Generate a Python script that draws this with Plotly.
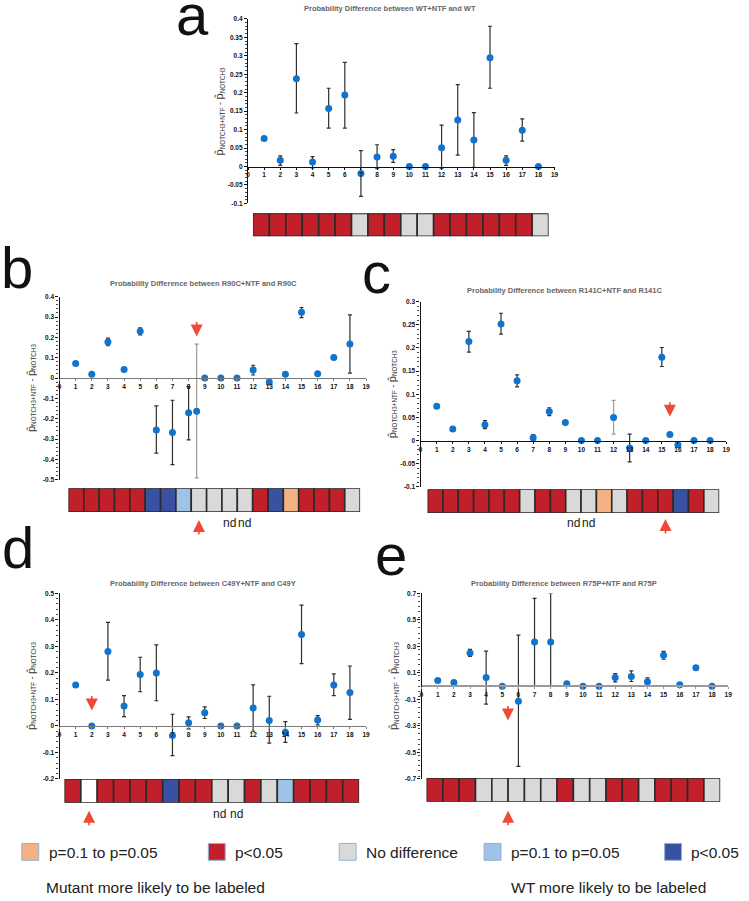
import plotly.graph_objects as go

W, H = 749, 901

# ======================= DATA =======================
x_ticklabels = [str(i) for i in range(20)]

a_title = "Probability Difference between WT+NTF and WT"
a_x = list(range(1, 19))
a_y = [0.076, 0.017, 0.238, 0.012, 0.157, 0.194, -0.019, 0.026, 0.028, 0.0, 0.0, 0.051, 0.126, 0.072, 0.295, 0.017, 0.098, 0.0]
a_hi = [0.076, 0.029, 0.333, 0.027, 0.212, 0.282, 0.043, 0.059, 0.046, 0.0, 0.0, 0.112, 0.222, 0.146, 0.380, 0.029, 0.129, 0.0]
a_lo = [0.076, 0.003, 0.145, -0.004, 0.104, 0.104, -0.081, -0.006, 0.011, 0.0, 0.0, -0.006, 0.031, -0.002, 0.212, 0.003, 0.069, 0.0]
a_tone = ["d"] * 18
a_strip = ["M", "M", "M", "M", "M", "M", "N", "M", "M", "N", "N", "M", "M", "M", "M", "M", "M", "N"]
a_yticks = [-0.1, -0.05, 0, 0.05, 0.1, 0.15, 0.2, 0.25, 0.3, 0.35, 0.4]
a_yticklabels = ["-0.1", "-0.05", "0", "0.05", "0.1", "0.15", "0.2", "0.25", "0.3", "0.35", "0.4"]
a_yrange = [-0.1, 0.4]
a_nd_cells = []
a_site_x = None
a_site_cell = None

b_title = "Probability Difference between R90C+NTF and R90C"
b_x = [1, 2, 3, 4, 5, 6, 7, 8, 8.5, 9, 10, 11, 12, 13, 14, 15, 16, 17, 18]
b_y = [0.072, 0.019, 0.177, 0.042, 0.230, -0.255, -0.268, -0.171, -0.163, 0.0, 0.0, 0.0, 0.040, -0.019, 0.019, 0.323, 0.021, 0.101, 0.167]
b_hi = [0.072, 0.019, 0.196, 0.042, 0.247, -0.137, -0.109, -0.042, 0.167, 0.0, 0.0, 0.0, 0.063, -0.019, 0.029, 0.347, 0.021, 0.101, 0.311]
b_lo = [0.072, 0.019, 0.159, 0.042, 0.212, -0.369, -0.426, -0.304, -0.491, 0.0, 0.0, 0.0, 0.015, -0.019, 0.010, 0.297, 0.021, 0.101, 0.024]
b_tone = ["d"] * 8 + ["l"] + ["d"] * 10
b_strip = ["M", "M", "M", "M", "M", "W", "W", "w", "N", "N", "N", "N", "M", "W", "m", "M", "M", "M", "N"]
b_yticks = [-0.5, -0.4, -0.3, -0.2, -0.1, 0, 0.1, 0.2, 0.3, 0.4]
b_yticklabels = ["-0.5", "-0.4", "-0.3", "-0.2", "-0.1", "0", "0.1", "0.2", "0.3", "0.4"]
b_yrange = [-0.5, 0.4]
b_nd_cells = [11, 12]
b_site_x = 8.5
b_site_cell = 9

c_title = "Probability Difference between R141C+NTF and R141C"
c_x = [1, 2, 3, 4, 5, 6, 7, 8, 9, 10, 11, 12, 13, 14, 15, 15.5, 16, 17, 18]
c_y = [0.074, 0.025, 0.214, 0.034, 0.252, 0.129, 0.006, 0.063, 0.039, 0.0, 0.0, 0.050, -0.016, 0.0, 0.180, 0.013, -0.009, 0.0, 0.0]
c_hi = [0.074, 0.025, 0.236, 0.043, 0.275, 0.142, 0.013, 0.071, 0.039, 0.0, 0.0, 0.087, 0.014, 0.0, 0.201, 0.013, -0.009, 0.0, 0.0]
c_lo = [0.074, 0.025, 0.191, 0.026, 0.230, 0.116, 0.0, 0.054, 0.039, 0.0, 0.0, 0.014, -0.046, 0.0, 0.160, 0.013, -0.009, 0.0, 0.0]
c_tone = ["d"] * 11 + ["l"] + ["d"] * 7
c_strip = ["M", "M", "M", "M", "M", "M", "N", "M", "M", "N", "N", "m", "N", "M", "M", "M", "W", "M", "N"]
c_yticks = [-0.1, -0.05, 0, 0.05, 0.1, 0.15, 0.2, 0.25, 0.3]
c_yticklabels = ["-0.1", "-0.05", "0", "0.05", "0.1", "0.15", "0.2", "0.25", "0.3"]
c_yrange = [-0.1, 0.3]
c_nd_cells = [10, 11]
c_site_x = 15.5
c_site_cell = 16

d_title = "Probability Difference between C49Y+NTF and C49Y"
d_x = list(range(1, 19))
d_y = [0.154, 0.0, 0.281, 0.075, 0.194, 0.200, -0.036, 0.012, 0.050, 0.0, 0.0, 0.068, 0.020, -0.024, 0.345, 0.022, 0.154, 0.126]
d_hi = [0.154, 0.0, 0.391, 0.114, 0.259, 0.306, 0.044, 0.034, 0.072, 0.0, 0.0, 0.155, 0.112, 0.016, 0.456, 0.039, 0.196, 0.226]
d_lo = [0.154, 0.0, 0.173, 0.035, 0.129, 0.095, -0.112, -0.011, 0.028, 0.0, 0.0, -0.020, -0.065, -0.062, 0.235, 0.004, 0.114, 0.025]
d_tone = ["d"] * 18
d_strip = ["M", "X", "M", "M", "M", "M", "W", "M", "M", "N", "N", "M", "N", "w", "M", "M", "M", "M"]
d_yticks = [-0.2, -0.1, 0, 0.1, 0.2, 0.3, 0.4, 0.5]
d_yticklabels = ["-0.2", "-0.1", "0", "0.1", "0.2", "0.3", "0.4", "0.5"]
d_yrange = [-0.2, 0.5]
d_nd_cells = [10, 11]
d_site_x = 2
d_site_cell = 2

e_title = "Probability Difference between R75P+NTF and R75P"
e_x = list(range(1, 19))
e_y = [0.043, 0.028, 0.250, 0.065, 0.0, -0.113, 0.333, 0.333, 0.018, 0.0, 0.0, 0.065, 0.073, 0.033, 0.233, 0.010, 0.138, 0.0]
e_hi = [0.043, 0.028, 0.278, 0.265, 0.0, 0.385, 0.663, 0.700, 0.035, 0.0, 0.0, 0.095, 0.115, 0.063, 0.263, 0.010, 0.138, 0.0]
e_lo = [0.043, 0.028, 0.225, -0.135, 0.0, -0.605, 0.0, 0.0, 0.0, 0.0, 0.0, 0.033, 0.035, 0.0, 0.203, 0.010, 0.138, 0.0]
e_tone = ["d"] * 18
e_strip = ["M", "M", "M", "N", "N", "N", "N", "N", "M", "N", "N", "M", "M", "N", "M", "M", "M", "N"]
e_yticks = [-0.7, -0.5, -0.3, -0.1, 0.1, 0.3, 0.5, 0.7]
e_yticklabels = ["-0.7", "-0.5", "-0.3", "-0.1", "0.1", "0.3", "0.5", "0.7"]
e_yrange = [-0.7, 0.7]
e_nd_cells = []
e_site_x = 5.35
e_site_cell = 5.5

legend_labels = ["p=0.1 to p=0.05", "p<0.05", "No difference", "p=0.1 to p=0.05", "p<0.05"]
legend_codes = ["m", "M", "N", "w", "W"]
footer_labels = ["Mutant more likely to be labeled", "WT more likely to be labeled"]

# ======================= STYLE / LAYOUT =======================
CAT_COLORS = {"M": "#C1202B", "m": "#F4B183", "N": "#D9D9D9",
              "w": "#9DC3E6", "W": "#3A50A2", "X": "#FFFFFF"}
TONE_COLORS = {"d": "#2e2e2e", "l": "#9a9a9a"}
POINT_COLOR = "#1273CC"
ARROW_COLOR = "#EF4A36"
FONT = "Liberation Sans"

panels = [
    dict(key="a", title=a_title, x=a_x, y=a_y, hi=a_hi, lo=a_lo, tone=a_tone, strip=a_strip,
         yt=a_yticks, ytl=a_yticklabels, yr=a_yrange, minor=0.01, nd=a_nd_cells,
         site_x=a_site_x, site_cell=a_site_cell,
         plot=(248, 557, 15, 201), sbox=(253, 551, 211, 234), tpos=(391, 5),
         letter=(173, 11), zc="#111111", zw=1.3, down=None, up=None, ndy=None),
    dict(key="b", title=b_title, x=b_x, y=b_y, hi=b_hi, lo=b_lo, tone=b_tone, strip=b_strip,
         yt=b_yticks, ytl=b_yticklabels, yr=b_yrange, minor=0.02, nd=b_nd_cells,
         site_x=b_site_x, site_cell=b_site_cell,
         plot=(58, 367, 295, 479.5), sbox=(67, 361, 488, 512), tpos=(203, 282),
         letter=(-3, 266), zc="#7a7a7a", zw=1.3, down=335, up=520, ndy=523),
    dict(key="c", title=c_title, x=c_x, y=c_y, hi=c_hi, lo=c_lo, tone=c_tone, strip=c_strip,
         yt=c_yticks, ytl=c_yticklabels, yr=c_yrange, minor=0.01, nd=c_nd_cells,
         site_x=c_site_x, site_cell=c_site_cell,
         plot=(422, 730, 300, 486.7), sbox=(429, 723, 489, 513), tpos=(567, 289),
         letter=(361, 271), zc="#111111", zw=1.3, down=416, up=519, ndy=523),
    dict(key="d", title=d_title, x=d_x, y=d_y, hi=d_hi, lo=d_lo, tone=d_tone, strip=d_strip,
         yt=d_yticks, ytl=d_yticklabels, yr=d_yrange, minor=0.02, nd=d_nd_cells,
         site_x=d_site_x, site_cell=d_site_cell,
         plot=(58, 367, 594, 781), sbox=(63, 360, 781, 805), tpos=(203, 584),
         letter=(-2, 548), zc="#7a7a7a", zw=1.3, down=712, up=813, ndy=816),
    dict(key="e", title=e_title, x=e_x, y=e_y, hi=e_hi, lo=e_lo, tone=e_tone, strip=e_strip,
         yt=e_yticks, ytl=e_yticklabels, yr=e_yrange, minor=0.04, nd=e_nd_cells,
         site_x=e_site_x, site_cell=e_site_cell,
         plot=(423, 732, 594, 781), sbox=(428, 724, 780, 804), tpos=(567, 584),
         letter=(374, 555), zc="#9a9a9a", zw=2.2, down=722, up=813, ndy=None),
]


def px(xp):
    return xp / W


def py(yp):
    return 1 - yp / H


fig = go.Figure()
layout = dict(width=W, height=H, margin=dict(l=0, r=0, t=0, b=0),
              paper_bgcolor="white", plot_bgcolor="rgba(0,0,0,0)", showlegend=False)
annotations = []
shapes = []

tick_font = dict(family=FONT, size=6.5, color="#111111", weight="bold")

for i, p in enumerate(panels):
    mi = 2 * i + 1
    si = 2 * i + 2
    xm, ym = f"x{mi}", f"y{mi}"
    xs, ys = f"x{si}", f"y{si}"
    x0, x1, y0, y1 = p["plot"]
    ymin, ymax = p["yr"]
    zero_px = y0 + (ymax - 0) / (ymax - ymin) * (y1 - y0)

    layout[f"xaxis{mi}"] = dict(
        domain=[px(x0), px(x1)], range=[0, 19], anchor="free", position=py(zero_px),
        tickvals=list(range(20)), ticktext=x_ticklabels, tickfont=tick_font,
        showline=True, linecolor=p["zc"], linewidth=p["zw"], ticks="outside", ticklen=2,
        tickcolor=p["zc"], tickwidth=1, showgrid=False, zeroline=False)
    layout[f"yaxis{mi}"] = dict(
        domain=[py(y1), py(y0)], range=[ymin, ymax], anchor=xm,
        tickvals=p["yt"], ticktext=p["ytl"], tickfont=tick_font,
        showline=True, linecolor="#111111", linewidth=1.3, ticks="outside", ticklen=3,
        tickcolor="#111111", tickwidth=1, showgrid=False, zeroline=False,
        minor=dict(ticks="outside", ticklen=2, dtick=p["minor"], tickcolor="#444444",
                   tickwidth=0.8, showgrid=False))

    for tone in ["d", "l"]:
        idx = [k for k, t in enumerate(p["tone"]) if t == tone]
        if not idx:
            continue
        xs_ = [p["x"][k] for k in idx]
        ys_ = [p["y"][k] for k in idx]
        up_ = [p["hi"][k] - p["y"][k] for k in idx]
        dn_ = [p["y"][k] - p["lo"][k] for k in idx]
        fig.add_trace(go.Scatter(
            x=xs_, y=ys_, mode="markers", xaxis=xm, yaxis=ym,
            marker=dict(size=7, color=POINT_COLOR),
            error_y=dict(type="data", symmetric=False, array=up_, arrayminus=dn_,
                         color=TONE_COLORS[tone], thickness=1.2, width=2),
            cliponaxis=False, hoverinfo="x+y"))

    n = len(p["strip"])
    sx0, sx1, sy0, sy1 = p["sbox"]
    layout[f"xaxis{si}"] = dict(domain=[px(sx0), px(sx1)], range=[0.5, n + 0.5],
                                anchor=ys, visible=False, fixedrange=True)
    layout[f"yaxis{si}"] = dict(domain=[py(sy1), py(sy0)], range=[0, 1],
                                anchor=xs, visible=False, fixedrange=True)
    fig.add_trace(go.Bar(
        x=list(range(1, n + 1)), y=[1] * n, width=1, xaxis=xs, yaxis=ys,
        marker=dict(color=[CAT_COLORS[c] for c in p["strip"]],
                    line=dict(color="#2b2b2b", width=1.6)),
        cliponaxis=False, hoverinfo="x"))

    annotations.append(dict(text=p["title"], x=px(p["tpos"][0]), y=py(p["tpos"][1]),
                            xref="paper", yref="paper", showarrow=False,
                            xanchor="center", yanchor="middle",
                            font=dict(family=FONT, size=7.5, color="#666666", weight="bold")))
    annotations.append(dict(text=p["key"], x=px(p["letter"][0]), y=py(p["letter"][1]),
                            xref="paper", yref="paper", showarrow=False,
                            xanchor="left", yanchor="middle",
                            font=dict(family=FONT, size=58, color="#111111")))
    annotations.append(dict(
        text='<span style="font-size:11px">p̂</span><sub>NOTCH3+NTF</sub> - '
             '<span style="font-size:11px">p̂</span><sub>NOTCH3</sub>',
        x=px(x0 - 29), y=py((y0 + y1) / 2), xref="paper", yref="paper",
        showarrow=False, textangle=-90, xanchor="center", yanchor="middle",
        font=dict(family=FONT, size=9, color="#333333")))
    for c in p["nd"]:
        annotations.append(dict(text="nd", x=c, y=py(p["ndy"]), xref=xs, yref="paper",
                                showarrow=False, xanchor="center", yanchor="middle",
                                font=dict(family=FONT, size=12, color="#222222")))
    if p["site_x"] is not None:
        annotations.append(dict(text="", x=p["site_x"], y=py(p["down"]), xref=xm, yref="paper",
                                showarrow=True, arrowhead=2, arrowsize=1.5, arrowwidth=1.6,
                                arrowcolor=ARROW_COLOR, ax=0, ay=-16, standoff=0))
        annotations.append(dict(text="", x=p["site_cell"], y=py(p["up"]), xref=xs, yref="paper",
                                showarrow=True, arrowhead=2, arrowsize=1.5, arrowwidth=1.6,
                                arrowcolor=ARROW_COLOR, ax=0, ay=16, standoff=0))

# ---------- legend ----------
leg_sq_x = [20, 208, 340, 486, 668]
leg_sq_y = (846, 863)
for lab, code, lx in zip(legend_labels, legend_codes, leg_sq_x):
    shapes.append(dict(type="rect", xref="paper", yref="paper",
                       x0=px(lx), x1=px(lx + 17), y0=py(leg_sq_y[1]), y1=py(leg_sq_y[0]),
                       fillcolor=CAT_COLORS[code], line=dict(color="#8fb2d3", width=1)))
    annotations.append(dict(text=lab, x=px(lx + 25), y=py(855), xref="paper", yref="paper",
                            showarrow=False, xanchor="left", yanchor="middle",
                            font=dict(family=FONT, size=15.5, color="#222222")))
for lab, fx in zip(footer_labels, [42, 511]):
    annotations.append(dict(text=lab, x=px(fx), y=py(890), xref="paper", yref="paper",
                            showarrow=False, xanchor="left", yanchor="middle",
                            font=dict(family=FONT, size=15.5, color="#222222")))

layout["annotations"] = annotations
layout["shapes"] = shapes
fig.update_layout(**layout)
fig.write_html("out.html", config={"displayModeBar": False},
               post_script="document.body.style.margin='0';document.body.style.overflow='hidden';")
